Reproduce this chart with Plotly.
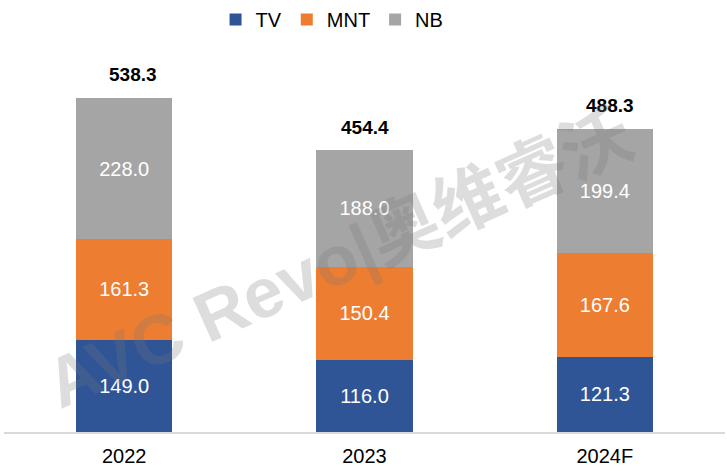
import plotly.graph_objects as go

categories = ["2022", "2023", "2024F"]
tv = [149.0, 116.0, 121.3]
mnt = [161.3, 150.4, 167.6]
nb = [228.0, 188.0, 199.4]
totals = [538.3, 454.4, 488.3]
total_label_xshift = [9, 0, 5]

colors = {"TV": "#2F5597", "MNT": "#ED7D31", "NB": "#A5A5A5"}
font_family = "Liberation Sans, Arial, sans-serif"

fig = go.Figure()
for name, vals in [("TV", tv), ("MNT", mnt), ("NB", nb)]:
    fig.add_trace(go.Bar(
        x=categories, y=vals, name=name,
        marker=dict(color=colors[name], line=dict(width=0)),
        text=[f"{v:.1f}" for v in vals],
        textposition="inside", insidetextanchor="middle",
        textfont=dict(color="white", size=20, family=font_family),
        width=0.4,
    ))

for i, (t, xs) in enumerate(zip(totals, total_label_xshift)):
    fig.add_annotation(x=i, y=t, xref="x", yref="y", text=f"<b>{t:.1f}</b>",
                       showarrow=False, yanchor="middle", yshift=23, xshift=xs,
                       font=dict(size=19, color="black", family=font_family))

# watermark
fig.add_annotation(x=0.465, y=0.44, xref="paper", yref="paper",
                   text="AVC Revo|奥维睿沃", showarrow=False, textangle=-24,
                   font=dict(size=70, color="rgba(120,120,120,0.25)",
                             family="Liberation Sans, Noto Sans CJK SC, sans-serif",
                             weight="bold"))

fig.update_layout(
    barmode="stack",
    width=727, height=471,
    margin=dict(l=4, r=2, t=40, b=39),
    plot_bgcolor="white", paper_bgcolor="white",
    font=dict(family=font_family, color="black", size=19),
    legend=dict(orientation="h", x=0.455, xanchor="center", y=1.0, yanchor="top",
                yref="container", font=dict(size=20, family=font_family),
                traceorder="normal", bgcolor="rgba(0,0,0,0)", itemwidth=30),
    uniformtext=dict(minsize=8, mode="show"),
)
fig.update_xaxes(type="category", showline=True, linecolor="#D9D9D9", linewidth=2, ticks="",
                 tickfont=dict(size=20, color="black", family=font_family), showgrid=False,
                 ticklabelstandoff=5)
fig.update_yaxes(visible=False, range=[0, 631.7], showgrid=False)

fig.write_html("out.html", config={"displayModeBar": False},
               post_script="document.body.style.margin='0';")
